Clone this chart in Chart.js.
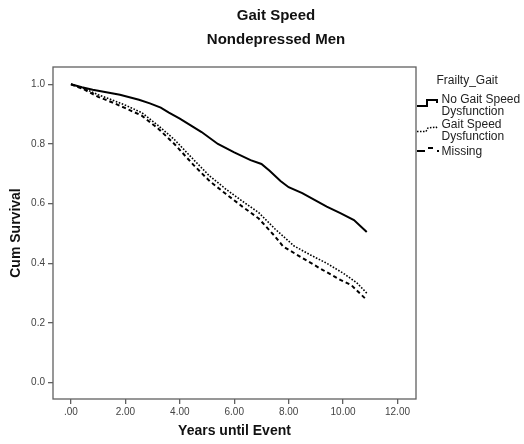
<!DOCTYPE html>
<html><head><meta charset="utf-8">
<script src="https://cdn.jsdelivr.net/npm/chart.js@4"></script>
<style>html,body{margin:0;padding:0;background:#fff}#c{display:block}</style>
</head><body>
<canvas id="c" width="524" height="444"></canvas>
<script>
const titleLines = ["Gait Speed", "Nondepressed Men"];
const legendTitle = "Frailty_Gait";
const seriesNames = [["No Gait Speed", "Dysfunction"], ["Gait Speed", "Dysfunction"], ["Missing"]];
const xAxisTitle = "Years until Event";
const yAxisTitle = "Cum Survival";
const xTicks = [0, 2, 4, 6, 8, 10, 12];
const yTicks = [0, 0.2, 0.4, 0.6, 0.8, 1.0];

const noDysYears = [0, 0.4, 0.8, 1.2, 1.8, 2.5, 2.9, 3.3, 3.6, 4.0, 4.4, 4.8, 5.4, 6.0, 6.6, 7.0, 7.3, 7.7, 8.0, 8.5, 9.0, 9.4, 9.9, 10.4, 10.87];
const noDysSurv  = [1.0, 0.99, 0.982, 0.975, 0.965, 0.948, 0.936, 0.922, 0.905, 0.885, 0.862, 0.84, 0.80, 0.772, 0.746, 0.733, 0.71, 0.676, 0.655, 0.635, 0.61, 0.59, 0.568, 0.545, 0.505];

const dysYears = [0, 0.5, 1.0, 1.5, 2.0, 2.6, 3.2, 3.8, 4.5, 5.1, 5.7, 6.3, 6.9, 7.5, 8.2, 8.8, 9.4, 10.0, 10.5, 10.87];
const dysSurv  = [1.0, 0.985, 0.965, 0.948, 0.93, 0.905, 0.862, 0.815, 0.748, 0.692, 0.648, 0.608, 0.570, 0.515, 0.458, 0.428, 0.400, 0.367, 0.335, 0.300];

const missYears = [0, 0.5, 1.0, 1.5, 2.0, 2.6, 3.2, 3.8, 4.5, 5.1, 5.7, 6.3, 6.9, 7.5, 7.8, 8.5, 9.15, 9.9, 10.3, 10.87];
const missSurv  = [1.0, 0.982, 0.958, 0.94, 0.92, 0.895, 0.852, 0.80, 0.73, 0.675, 0.632, 0.59, 0.55, 0.49, 0.456, 0.418, 0.383, 0.344, 0.327, 0.277];

const toPts = (xs, ys) => xs.map((x, i) => ({x: x, y: ys[i]}));
const FONT = "'Liberation Sans', Arial, sans-serif";
const FRAME = '#606060';

const decor = {
  id: 'decor',
  afterDraw(chart) {
    const ctx = chart.ctx, a = chart.chartArea;
    ctx.save();
    // frame
    ctx.strokeStyle = FRAME; ctx.lineWidth = 1.3;
    ctx.strokeRect(a.left, a.top, a.right - a.left, a.bottom - a.top);
    // titles
    ctx.fillStyle = '#111';
    ctx.font = "bold 15px " + FONT;
    ctx.textAlign = 'center'; ctx.textBaseline = 'alphabetic';
    ctx.fillText(titleLines[0], 276, 19.5);
    ctx.fillText(titleLines[1], 276, 43.5);
    // legend
    ctx.font = "12px " + FONT;
    ctx.textAlign = 'left'; ctx.textBaseline = 'middle';
    ctx.fillStyle = '#222';
    ctx.fillText(legendTitle, 436.5, 81);
    ctx.fillText(seriesNames[0][0], 441.5, 99.5);
    ctx.fillText(seriesNames[0][1], 441.5, 111.5);
    ctx.fillText(seriesNames[1][0], 441.5, 125);
    ctx.fillText(seriesNames[1][1], 441.5, 136.5);
    ctx.fillText(seriesNames[2][0], 441.5, 151.5);
    ctx.strokeStyle = '#000';
    // solid icon
    ctx.lineWidth = 2; ctx.setLineDash([]);
    ctx.beginPath(); ctx.moveTo(417, 106); ctx.lineTo(427, 106); ctx.lineTo(427, 100); ctx.lineTo(437, 100); ctx.lineTo(437, 103); ctx.stroke();
    // dotted icon
    ctx.lineWidth = 1.5; ctx.setLineDash([1.5, 1.5]);
    ctx.beginPath(); ctx.moveTo(417, 131.5); ctx.lineTo(426, 131.5); ctx.lineTo(428, 128); ctx.lineTo(436, 127); ctx.lineTo(438, 129); ctx.stroke();
    // dashed icon
    ctx.lineWidth = 2; ctx.setLineDash([]);
    ctx.beginPath(); ctx.moveTo(417, 151); ctx.lineTo(425, 151); ctx.moveTo(428, 148); ctx.lineTo(433, 148); ctx.stroke();
    ctx.fillStyle = '#000';
    ctx.fillRect(437, 150, 2, 2);
    ctx.restore();
  }
};

new Chart(document.getElementById('c'), {
  type: 'line',
  data: {
    datasets: [
      {label: seriesNames[0].join(' '), data: toPts(noDysYears, noDysSurv), borderColor: '#000', borderWidth: 2, pointRadius: 0, tension: 0, fill: false},
      {label: seriesNames[1].join(' '), data: toPts(dysYears, dysSurv), borderColor: '#000', borderWidth: 1.6, borderDash: [1.6, 1.6], pointRadius: 0, tension: 0, fill: false},
      {label: seriesNames[2].join(' '), data: toPts(missYears, missSurv), borderColor: '#000', borderWidth: 2, borderDash: [4, 3], pointRadius: 0, tension: 0, fill: false}
    ]
  },
  options: {
    responsive: false,
    animation: false,
    devicePixelRatio: 1,
    layout: {padding: {top: 67, right: 108, left: 0, bottom: 0}},
    plugins: {legend: {display: false}, title: {display: false}, tooltip: {enabled: false}},
    scales: {
      x: {
        type: 'linear', min: -0.66, max: 12.68,
        afterFit: s => { s.height = 45; },
        afterBuildTicks: s => { s.ticks = xTicks.map(v => ({value: v})); },
        ticks: {color: '#444', font: {family: FONT, size: 10}, padding: 2, maxRotation: 0, autoSkip: false,
          callback: v => v === 0 ? '.00' : Number(v).toFixed(2)},
        grid: {display: true, drawOnChartArea: false, drawTicks: true, tickLength: 5, color: FRAME, lineWidth: 1.3},
        border: {display: false},
        title: {display: true, text: xAxisTitle, color: '#111', font: {family: FONT, size: 14, weight: 'bold'}, padding: {top: 4, bottom: 4}}
      },
      y: {
        type: 'linear', min: -0.055, max: 1.058,
        afterFit: s => { s.width = 53; },
        afterBuildTicks: s => { s.ticks = yTicks.map(v => ({value: v})); },
        ticks: {color: '#444', font: {family: FONT, size: 10}, padding: 3, autoSkip: false,
          callback: v => Number(v).toFixed(1)},
        grid: {display: true, drawOnChartArea: false, drawTicks: true, tickLength: 5, color: FRAME, lineWidth: 1.3},
        border: {display: false},
        title: {display: true, text: yAxisTitle, color: '#111', font: {family: FONT, size: 14, weight: 'bold'}, padding: {top: 8, bottom: 4}}
      }
    }
  },
  plugins: [decor]
});
</script>
</body></html>
